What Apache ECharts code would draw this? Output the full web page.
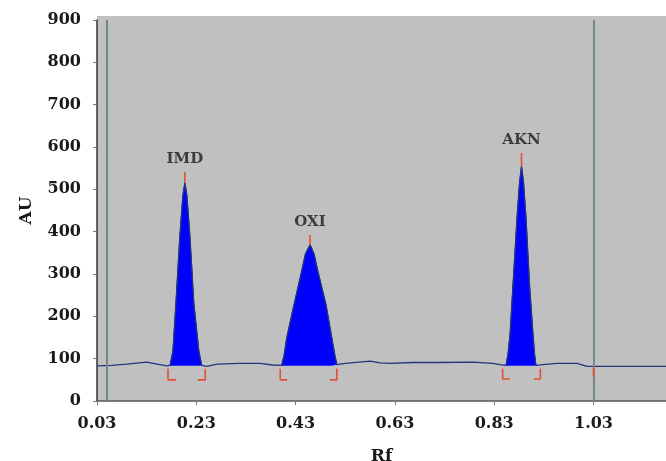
<!DOCTYPE html>
<html>
<head>
<meta charset="utf-8">
<script src="https://cdn.jsdelivr.net/npm/echarts@6/dist/echarts.min.js"></script>
<style>
  html, body { margin: 0; padding: 0; background: #fff; }
  #chart { width: 666px; height: 461px; }
</style>
</head>
<body>
<div id="chart"></div>
<script>
// x tick labels (Rf)
const xTicks = [0.03, 0.23, 0.43, 0.63, 0.83, 1.03]

// baseline pieces of the densitogram between the peaks [Rf, AU]
const traceA = [[0.03, 83], [0.06, 84], [0.09, 87], [0.13, 92], [0.151, 87], [0.171, 83]]
const traceB = [[0.251, 82], [0.272, 87], [0.318, 89], [0.358, 89], [0.384, 85]]
const traceC = [[0.53, 89], [0.58, 94], [0.60, 90], [0.62, 89], [0.666, 91], [0.72, 91], [0.787, 92], [0.827, 89], [0.848, 85]]
const traceD = [[0.928, 86], [0.956, 89], [0.997, 89], [1.017, 82], [1.176, 82]]

// peaks
const imdPeak = [[0.177, 84], [0.180, 100], [0.183, 118], [0.189, 230], [0.197, 390], [0.203, 485], [0.207, 515],
  [0.211, 485], [0.217, 390], [0.225, 230], [0.235, 118], [0.239, 95], [0.241, 84]]
const oxiPeak = [[0.402, 84], [0.407, 108], [0.412, 148], [0.427, 228], [0.442, 305], [0.450, 348], [0.459, 369],
  [0.467, 348], [0.475, 305], [0.491, 228], [0.503, 148], [0.509, 108], [0.513, 86]]
const aknPeak = [[0.854, 84], [0.858, 112], [0.862, 158], [0.868, 275], [0.876, 432], [0.881, 515], [0.885, 554],
  [0.889, 515], [0.894, 432], [0.901, 275], [0.908, 158], [0.911, 112], [0.914, 84]]

const peakNames = ['IMD', 'OXI', 'AKN']
// [Rf, peak AU, red tick top AU]
const peakTicks = [[0.207, 515, 541], [0.459, 369, 392], [0.885, 554, 586]]

// integration brackets
const brackets = [
  [[0.173, 76], [0.173, 50], [0.189, 50]], [[0.233, 50], [0.248, 50], [0.248, 76]],
  [[0.399, 76], [0.399, 50], [0.413, 50]], [[0.499, 50], [0.513, 50], [0.513, 76]],
  [[0.847, 76], [0.847, 52], [0.862, 52]], [[0.910, 52], [0.923, 52], [0.923, 76]],
  [[1.03, 80], [1.03, 57]]
]

// vertical start / front lines
const vLines = [0.05, 1.03]

const baseAU = 83
const serif = 'DejaVu Serif'

const chart = echarts.init(document.getElementById('chart'))

const trace = [].concat(traceA, imdPeak, traceB, oxiPeak, traceC, aknPeak, traceD)

const series = []

;[imdPeak, oxiPeak, aknPeak].forEach(pk => {
  series.push({
    type: 'line',
    data: pk,
    symbol: 'none',
    silent: true,
    lineStyle: { color: '#0000c8', width: 1 },
    areaStyle: { color: '#0000ff', opacity: 1, origin: baseAU },
    z: 3
  })
})

series.push({
  type: 'line',
  data: trace,
  symbol: 'none',
  silent: true,
  lineStyle: { color: '#23357f', width: 1.3 },
  z: 4,
  markLine: {
    symbol: 'none',
    silent: true,
    label: { show: false },
    lineStyle: { color: '#6f8a8a', width: 2, type: 'solid' },
    data: vLines.map(v => ({ xAxis: v }))
  }
})

brackets.forEach(b => {
  series.push({
    type: 'line',
    data: b,
    symbol: 'none',
    silent: true,
    lineStyle: { color: '#e4502e', width: 1.6 },
    z: 5
  })
})

peakTicks.forEach(t => {
  series.push({
    type: 'line',
    data: [[t[0], t[1]], [t[0], t[2]]],
    symbol: 'none',
    silent: true,
    lineStyle: { color: '#e4502e', width: 1.6 },
    z: 5
  })
})

series.push({
  type: 'scatter',
  symbolSize: 0,
  silent: true,
  data: peakTicks.map((t, i) => ({ value: [t[0], t[2]], name: peakNames[i] })),
  label: {
    show: true,
    position: 'top',
    distance: 5,
    formatter: p => p.name,
    fontFamily: serif,
    fontWeight: 'bold',
    fontSize: 15,
    color: '#1a1a1a'
  },
  z: 6
})

const option = {
  animation: false,
  backgroundColor: '#ffffff',
  grid: {
    left: 97,
    right: 0,
    top: 20,
    bottom: 60,
    outerBoundsMode: 'none',
    show: true,
    backgroundColor: '#c0c0c0',
    borderWidth: 0
  },
  graphic: [{
    type: 'rect',
    shape: { x: 97, y: 16, width: 569, height: 5 },
    style: { fill: '#c0c0c0' },
    z: -1,
    silent: true
  }],
  xAxis: {
    type: 'value',
    min: 0.03,
    max: 1.176,
    name: 'Rf',
    nameLocation: 'middle',
    nameGap: 47,
    nameTextStyle: { fontFamily: serif, fontWeight: 'bold', fontSize: 17, color: '#1a1a1a' },
    axisLine: { show: true, lineStyle: { color: '#555', width: 1.5 } },
    axisTick: { show: true, customValues: xTicks, length: 4, lineStyle: { color: '#777' } },
    axisLabel: {
      customValues: xTicks,
      formatter: v => v.toFixed(2),
      fontFamily: serif,
      fontWeight: 'bold',
      fontSize: 16,
      color: '#1a1a1a',
      margin: 15
    },
    splitLine: { show: false }
  },
  yAxis: {
    type: 'value',
    min: 0,
    max: 900,
    interval: 100,
    name: 'AU',
    nameLocation: 'middle',
    nameGap: 62,
    nameRotate: 90,
    nameTextStyle: { fontFamily: serif, fontWeight: 'bold', fontSize: 17, color: '#1a1a1a' },
    axisLine: { show: true, lineStyle: { color: '#333', width: 1.5 } },
    axisTick: { show: true, length: 4, lineStyle: { color: '#777' } },
    axisLabel: {
      fontFamily: serif,
      fontWeight: 'bold',
      fontSize: 16,
      color: '#1a1a1a',
      margin: 16
    },
    splitLine: { show: false }
  },
  series: series
}

chart.setOption(option)
</script>
</body>
</html>
